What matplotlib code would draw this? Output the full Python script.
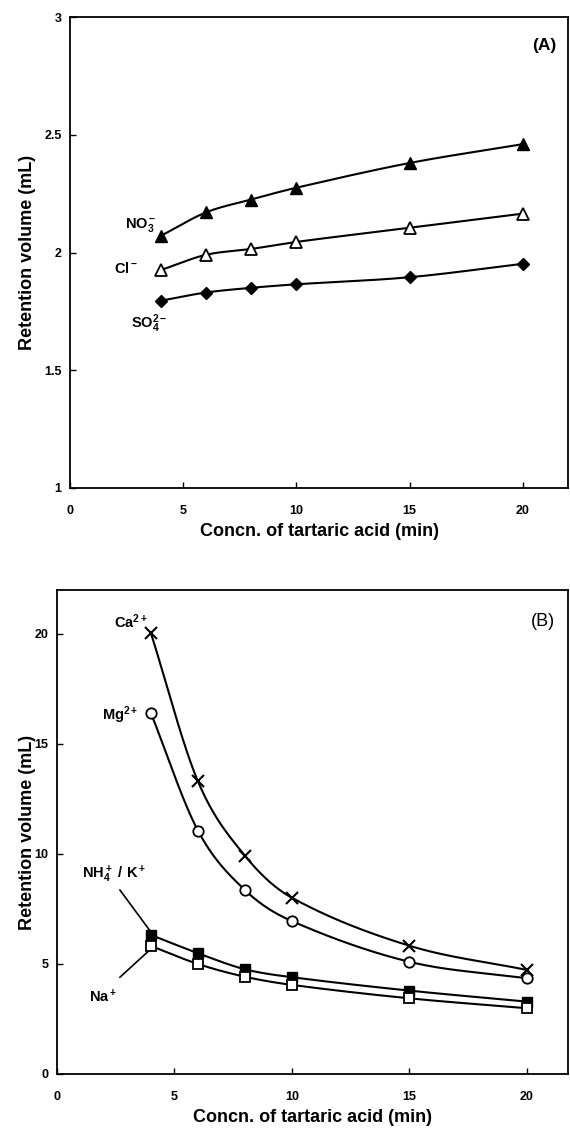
import numpy as np
import matplotlib
matplotlib.use("Agg")
import matplotlib.pyplot as plt

plt.rcParams['font.family'] = ['Liberation Sans', 'DejaVu Sans']
plt.rcParams['mathtext.fontset'] = 'custom'
plt.rcParams['mathtext.rm'] = 'Liberation Sans:bold'
plt.rcParams['mathtext.it'] = 'Liberation Sans:bold'
plt.rcParams['mathtext.bf'] = 'Liberation Sans:bold'

# ---- data ----
conc = [4, 6, 8, 10, 15, 20]

no3 = [2.07, 2.17, 2.225, 2.275, 2.38, 2.46]
cl = [1.925, 1.99, 2.015, 2.045, 2.105, 2.165]
so4 = [1.795, 1.83, 1.85, 1.865, 1.895, 1.952]

ca = [20.03, 13.3, 9.92, 8.01, 5.83, 4.73]
mg = [16.4, 11.06, 8.36, 6.95, 5.1, 4.35]
nh4k = [6.32, 5.49, 4.76, 4.4, 3.79, 3.29]
na = [5.82, 5.0, 4.42, 4.05, 3.44, 2.99]

xticks = [0, 5, 10, 15, 20]
yticks_a = [1, 1.5, 2, 2.5, 3]
yticks_b = [0, 5, 10, 15, 20]


def smooth(x, y, n=300):
    x = np.asarray(x, float)
    y = np.asarray(y, float)
    m = np.zeros_like(y)
    m[0] = (y[1] - y[0]) / (x[1] - x[0])
    m[-1] = (y[-1] - y[-2]) / (x[-1] - x[-2])
    for i in range(1, len(x) - 1):
        m[i] = (y[i + 1] - y[i - 1]) / (x[i + 1] - x[i - 1])
    xs, ys = [], []
    for i in range(len(x) - 1):
        h = x[i + 1] - x[i]
        t = np.linspace(0, 1, n // len(x))
        h00 = 2 * t**3 - 3 * t**2 + 1
        h10 = t**3 - 2 * t**2 + t
        h01 = -2 * t**3 + 3 * t**2
        h11 = t**3 - t**2
        xs.append(x[i] + t * h)
        ys.append(h00 * y[i] + h10 * h * m[i] + h01 * y[i + 1] + h11 * h * m[i + 1])
    return np.concatenate(xs), np.concatenate(ys)


def series(ax, x, y, **mk):
    sx, sy = smooth(x, y)
    ax.plot(sx, sy, color='black', lw=1.5, zorder=2)
    ax.plot(x, y, linestyle='none', zorder=3, **mk)


fig = plt.figure(figsize=(5.7, 11.29), dpi=100)
lab_fs = 13

# ---- Panel A ----
axA = fig.add_axes([70 / 570, 1 - 488 / 1129, 498 / 570, (488 - 17) / 1129])
series(axA, conc, no3, marker='^', ms=8, mfc='black', mec='black')
series(axA, conc, cl, marker='^', ms=8, mfc='white', mec='black', mew=1.3)
series(axA, conc, so4, marker='D', ms=6.5, mfc='black', mec='black')
axA.set_xlim(0, 22)
axA.set_ylim(1, 3)
axA.set_xticks(xticks)
axA.set_yticks(yticks_a)
axA.set_yticklabels(['1', '1.5', '2', '2.5', '3'])
axA.set_xlabel('Concn. of tartaric acid (min)', fontsize=lab_fs, fontweight='bold')
axA.set_ylabel('Retention volume (mL)', fontsize=lab_fs, fontweight='bold')
axA.xaxis.set_label_coords(0.5, (488 - 532) / 471)
axA.yaxis.set_label_coords((28 - 70) / 498, 0.5)
axA.xaxis.label.set_va('center')
axA.yaxis.label.set_va('center')
axA.text(21.5, 2.88, '(A)', fontsize=12.5, fontweight='bold', ha='right', va='center')
axA.text(3.8, 2.106, r'$\mathbf{NO_3^-}$', fontsize=10.5, ha='right', va='baseline')
axA.text(3.0, 1.915, r'$\mathbf{Cl^-}$', fontsize=10.5, ha='right', va='baseline')
axA.text(4.3, 1.681, r'$\mathbf{SO_4^{2-}}$', fontsize=10.5, ha='right', va='baseline')

# ---- Panel B ----
axB = fig.add_axes([57 / 570, 1 - 1074 / 1129, 511 / 570, (1074 - 590) / 1129])
series(axB, conc, ca, marker='x', ms=9, mec='black', mew=1.5)
series(axB, conc, mg, marker='o', ms=7.5, mfc='white', mec='black', mew=1.3)
series(axB, conc, nh4k, marker='s', ms=7, mfc='black', mec='black')
series(axB, conc, na, marker='s', ms=7, mfc='white', mec='black', mew=1.3)
axB.set_xlim(0, 21.75)
axB.set_ylim(0, 22)
axB.set_xticks(xticks)
axB.set_yticks(yticks_b)
axB.set_xlabel('Concn. of tartaric acid (min)', fontsize=lab_fs, fontweight='bold')
axB.set_ylabel('Retention volume (mL)', fontsize=lab_fs, fontweight='bold')
axB.xaxis.set_label_coords(0.5, (1074 - 1118) / 484)
axB.yaxis.set_label_coords((28 - 57) / 511, 0.5)
axB.xaxis.label.set_va('center')
axB.yaxis.label.set_va('center')
axB.text(21.2, 20.55, '(B)', fontsize=13, ha='right', va='center')
axB.text(3.87, 20.27, r'$\mathbf{Ca^{2+}}$', fontsize=10.5, ha='right', va='baseline')
axB.text(3.45, 16.1, r'$\mathbf{Mg^{2+}}$', fontsize=10.5, ha='right', va='baseline')
axB.text(1.06, 8.9, r'$\mathbf{NH_4^+\ /\ K^+}$', fontsize=10.5, ha='left', va='baseline')
axB.text(1.36, 3.27, r'$\mathbf{Na^+}$', fontsize=10.5, ha='left', va='baseline')
axB.plot([2.68, 4.0], [8.36, 6.45], color='black', lw=1.2)
axB.plot([2.68, 3.95], [4.4, 5.64], color='black', lw=1.2)

for ax in (axA, axB):
    for s in ax.spines.values():
        s.set_linewidth(1.3)
    ax.tick_params(axis='x', direction='in', length=4, width=1, pad=12, labelsize=9)
    ax.tick_params(axis='y', direction='in', length=4, width=1, pad=6, labelsize=9)
    for lab in ax.get_xticklabels() + ax.get_yticklabels():
        lab.set_fontweight('bold')

fig.savefig('out.png', dpi=100)
